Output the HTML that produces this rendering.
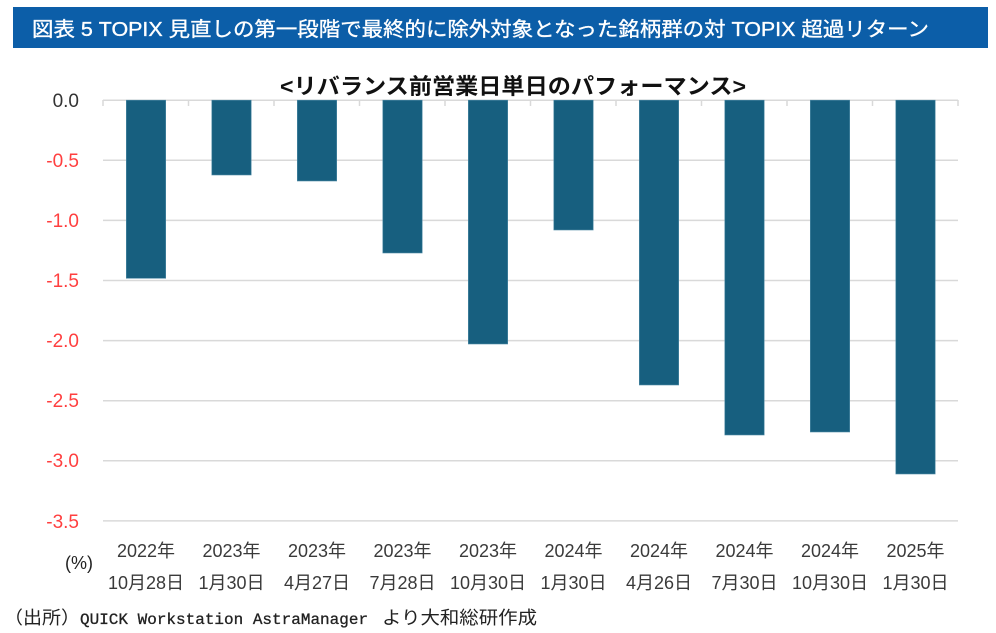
<!DOCTYPE html>
<html><head><meta charset="utf-8"><style>
html,body{margin:0;padding:0;background:#fff;}
svg{display:block;}
</style></head><body>
<svg width="996" height="633" viewBox="0 0 996 633" xmlns="http://www.w3.org/2000/svg">
<rect x="0" y="0" width="996" height="633" fill="#ffffff"/>
<rect x="13" y="7" width="975" height="41" fill="#0c5ea8"/>
<text x="32" y="36" fill="#ffffff" stroke="#ffffff" stroke-width="0.35" font-family="'Liberation Sans','Noto Sans CJK JP',sans-serif" font-size="20" textLength="897" lengthAdjust="spacingAndGlyphs">図表 5 TOPIX 見直しの第一段階で最終的に除外対象となった銘柄群の対 TOPIX 超過リターン</text>
<text x="280" y="94" fill="#111" font-family="'Liberation Sans','Noto Sans CJK JP',sans-serif" font-size="22" font-weight="bold" textLength="466" lengthAdjust="spacingAndGlyphs">&lt;リバランス前営業日単日のパフォーマンス&gt;</text>
<g stroke="#d9d9d9" stroke-width="1.5">
<line x1="103" y1="160.3" x2="958" y2="160.3"/>
<line x1="103" y1="220.4" x2="958" y2="220.4"/>
<line x1="103" y1="280.5" x2="958" y2="280.5"/>
<line x1="103" y1="340.6" x2="958" y2="340.6"/>
<line x1="103" y1="400.7" x2="958" y2="400.7"/>
<line x1="103" y1="460.8" x2="958" y2="460.8"/>
<line x1="103" y1="520.9" x2="958" y2="520.9"/>
<line x1="103" y1="100.2" x2="958" y2="100.2"/>
<line x1="103" y1="100" x2="103" y2="106"/>
<line x1="188.5" y1="100" x2="188.5" y2="106"/>
<line x1="274" y1="100" x2="274" y2="106"/>
<line x1="359.5" y1="100" x2="359.5" y2="106"/>
<line x1="445" y1="100" x2="445" y2="106"/>
<line x1="530.5" y1="100" x2="530.5" y2="106"/>
<line x1="616" y1="100" x2="616" y2="106"/>
<line x1="701.5" y1="100" x2="701.5" y2="106"/>
<line x1="787" y1="100" x2="787" y2="106"/>
<line x1="872.5" y1="100" x2="872.5" y2="106"/>
<line x1="958" y1="100" x2="958" y2="106"/>
</g>
<g fill="#175f7f" stroke="#4f8aa6" stroke-width="0.6">
<rect x="126.3" y="100.2" width="39.4" height="178.1"/>
<rect x="211.8" y="100.2" width="39.4" height="74.8"/>
<rect x="297.3" y="100.2" width="39.4" height="80.8"/>
<rect x="382.8" y="100.2" width="39.4" height="152.8"/>
<rect x="468.3" y="100.2" width="39.4" height="243.8"/>
<rect x="553.8" y="100.2" width="39.4" height="129.8"/>
<rect x="639.3" y="100.2" width="39.4" height="284.8"/>
<rect x="724.8" y="100.2" width="39.4" height="334.8"/>
<rect x="810.3" y="100.2" width="39.4" height="331.8"/>
<rect x="895.8" y="100.2" width="39.4" height="373.8"/>
</g>
<g font-family="'Liberation Sans',sans-serif" font-size="19" text-anchor="end">
<text x="79" y="107" fill="#333">0.0</text>
<text x="79" y="167" fill="#ff3f3f">-0.5</text>
<text x="79" y="227" fill="#ff3f3f">-1.0</text>
<text x="79" y="287" fill="#ff3f3f">-1.5</text>
<text x="79" y="347" fill="#ff3f3f">-2.0</text>
<text x="79" y="407" fill="#ff3f3f">-2.5</text>
<text x="79" y="467" fill="#ff3f3f">-3.0</text>
<text x="79" y="528" fill="#ff3f3f">-3.5</text>
</g>
<text x="65" y="569" fill="#222" font-family="'Liberation Sans',sans-serif" font-size="18">(%)</text>
<g font-family="'Liberation Sans','Noto Sans CJK JP',sans-serif" font-size="18" fill="#3a3a3a" text-anchor="middle">
<text x="146" y="557">2022年</text><text x="146" y="589">10月28日</text>
<text x="231.5" y="557">2023年</text><text x="231.5" y="589">1月30日</text>
<text x="317" y="557">2023年</text><text x="317" y="589">4月27日</text>
<text x="402.5" y="557">2023年</text><text x="402.5" y="589">7月28日</text>
<text x="488" y="557">2023年</text><text x="488" y="589">10月30日</text>
<text x="573.5" y="557">2024年</text><text x="573.5" y="589">1月30日</text>
<text x="659" y="557">2024年</text><text x="659" y="589">4月26日</text>
<text x="744.5" y="557">2024年</text><text x="744.5" y="589">7月30日</text>
<text x="830" y="557">2024年</text><text x="830" y="589">10月30日</text>
<text x="915.5" y="557">2025年</text><text x="915.5" y="589">1月30日</text>
</g>
<text x="4" y="624" fill="#222" font-family="'Liberation Sans','Noto Sans CJK JP',sans-serif" font-size="18" textLength="76" lengthAdjust="spacingAndGlyphs">（出所）</text>
<text x="80" y="624" fill="#222" stroke="#222" stroke-width="0.3" font-family="'Liberation Mono',monospace" font-size="16">QUICK Workstation AstraManager</text>
<text x="382" y="624" fill="#222" font-family="'Liberation Sans','Noto Sans CJK JP',sans-serif" font-size="18" textLength="155" lengthAdjust="spacingAndGlyphs">より大和総研作成</text>
</svg>
</body></html>
